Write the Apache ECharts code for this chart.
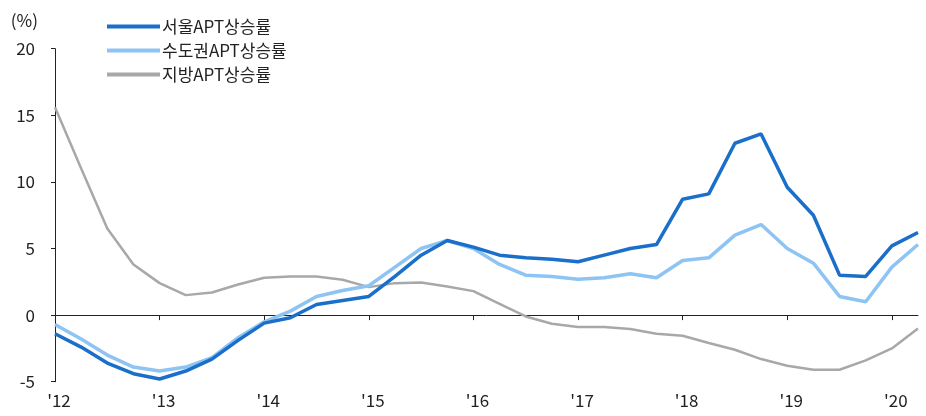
<!DOCTYPE html>
<html>
<head>
<meta charset="utf-8">
<script src="https://cdn.jsdelivr.net/npm/echarts@6/dist/echarts.min.js"></script>
<style>
  html, body { margin: 0; padding: 0; background: #fff; }
  #chart { width: 926px; height: 416px; }
</style>
</head>
<body>
<div id="chart"></div>
<script>
// Quarterly periods, 2012 Q1 – 2020 Q2
const quarters = [
  '2012.1Q','2012.2Q','2012.3Q','2012.4Q',
  '2013.1Q','2013.2Q','2013.3Q','2013.4Q',
  '2014.1Q','2014.2Q','2014.3Q','2014.4Q',
  '2015.1Q','2015.2Q','2015.3Q','2015.4Q',
  '2016.1Q','2016.2Q','2016.3Q','2016.4Q',
  '2017.1Q','2017.2Q','2017.3Q','2017.4Q',
  '2018.1Q','2018.2Q','2018.3Q','2018.4Q',
  '2019.1Q','2019.2Q','2019.3Q','2019.4Q',
  '2020.1Q','2020.2Q'
];

// Year tick labels, shown at each first quarter
const yearLabels = ["'12", "'13", "'14", "'15", "'16", "'17", "'18", "'19", "'20"];

const seriesNames = ['서울APT상승률', '수도권APT상승률', '지방APT상승률'];

// Seoul apartment price growth (%)
const seoul = [
  -1.4, -2.4, -3.6, -4.4,
  -4.8, -4.2, -3.3, -1.9,
  -0.6, -0.2, 0.8, 1.1,
  1.4, 2.9, 4.5, 5.6,
  5.1, 4.5, 4.3, 4.2,
  4.0, 4.5, 5.0, 5.3,
  8.7, 9.1, 12.9, 13.6,
  9.6, 7.5, 3.0, 2.9,
  5.2, 6.2
];

// Capital area apartment price growth (%)
const capital = [
  -0.7, -1.8, -3.0, -3.9,
  -4.2, -3.9, -3.2, -1.7,
  -0.5, 0.3, 1.4, 1.85,
  2.2, 3.6, 5.0, 5.6,
  5.0, 3.8, 3.0, 2.9,
  2.7, 2.8, 3.1, 2.8,
  4.1, 4.3, 6.0, 6.8,
  5.0, 3.9, 1.4, 1.0,
  3.6, 5.3
];

// Regional apartment price growth (%)
const regional = [
  15.6, 11.0, 6.5, 3.8,
  2.4, 1.5, 1.7, 2.3,
  2.8, 2.9, 2.9, 2.65,
  2.1, 2.4, 2.45, 2.15,
  1.8, 0.85, -0.1, -0.65,
  -0.9, -0.9, -1.05, -1.4,
  -1.55, -2.1, -2.6, -3.3,
  -3.8, -4.1, -4.1, -3.4,
  -2.5, -1.0
];

const colors = ['#1a6fca', '#8dc4f3', '#a8a8a8'];
const FONT = '"Noto Sans CJK KR", "Noto Sans", sans-serif';
const FS = 17;
const isYearStart = (i) => i % 4 === 0;

const chart = echarts.init(document.getElementById('chart'), null, { renderer: 'canvas' });

chart.setOption({
  animation: false,
  backgroundColor: '#ffffff',
  textStyle: { fontFamily: FONT },
  grid: { left: 55, right: 8, top: 48.7, bottom: 34.3, containLabel: false },
  legend: {
    orient: 'vertical',
    left: 102,
    top: 13,
    itemWidth: 53,
    itemHeight: 4,
    itemGap: 7,
    icon: 'rect',
    data: seriesNames,
    textStyle: { fontFamily: FONT, fontSize: FS, color: '#222', padding: [0, 0, 0, -3] }
  },
  xAxis: [
    {
      type: 'category',
      data: quarters,
      boundaryGap: false,
      axisLine: { onZero: true, lineStyle: { color: '#222', width: 1 } },
      axisTick: { show: true, length: 5, interval: (i) => isYearStart(i) && i > 0, lineStyle: { color: '#222' } },
      axisLabel: { show: false },
      splitLine: { show: false }
    },
    {
      type: 'category',
      data: quarters,
      boundaryGap: false,
      position: 'bottom',
      axisLine: { show: false, onZero: false },
      axisTick: { show: false },
      axisLabel: {
        interval: (i) => isYearStart(i),
        formatter: (v, i) => yearLabels[Math.floor(i / 4)],
        margin: 10,
        fontSize: FS,
        color: '#222',
        fontFamily: FONT,
        padding: [0, 0, 0, 8]
      },
      splitLine: { show: false }
    }
  ],
  yAxis: {
    type: 'value',
    min: -5,
    max: 20,
    interval: 5,
    name: '(%)',
    nameLocation: 'end',
    nameGap: 20,
    nameTextStyle: { fontFamily: FONT, fontSize: FS, color: '#222', align: 'right', padding: [0, 17, 0, 0] },
    axisLine: { show: true, lineStyle: { color: '#222', width: 1 } },
    axisTick: { show: true, length: 4, lineStyle: { color: '#222' } },
    axisLabel: { fontSize: FS, color: '#222', margin: 20, fontFamily: FONT },
    splitLine: { show: false }
  },
  series: [
    {
      name: seriesNames[0], type: 'line', data: seoul, xAxisIndex: 0,
      symbol: 'none', color: colors[0], lineStyle: { width: 3.5, color: colors[0] }, z: 4
    },
    {
      name: seriesNames[1], type: 'line', data: capital, xAxisIndex: 0,
      symbol: 'none', color: colors[1], lineStyle: { width: 3.5, color: colors[1] }, z: 3
    },
    {
      name: seriesNames[2], type: 'line', data: regional, xAxisIndex: 0,
      symbol: 'none', color: colors[2], lineStyle: { width: 2.5, color: colors[2] }, z: 2
    }
  ]
});
</script>
</body>
</html>
